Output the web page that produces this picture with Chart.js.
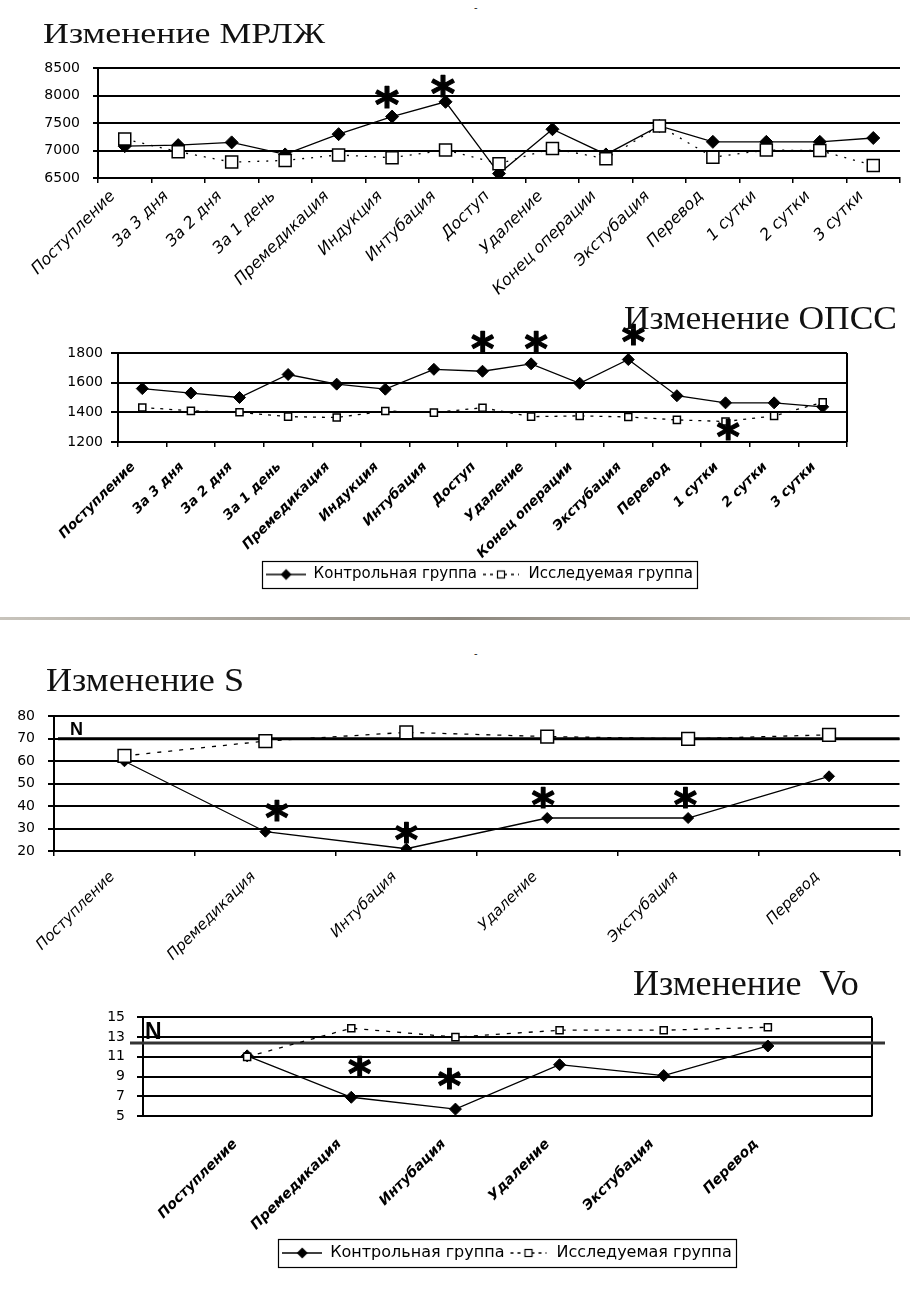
<!DOCTYPE html>
<html>
<head>
<meta charset="utf-8">
<script src="https://cdn.jsdelivr.net/npm/chart.js@4.4.1/dist/chart.umd.min.js"></script>
<style>
  body { margin: 0; width: 910px; height: 1289px; background: #fff; position: relative; overflow: hidden; }
  canvas { position: absolute; }
  .zag { position: absolute; font-family: 'Liberation Serif', 'DejaVu Serif', serif; color: #111; line-height: 1; white-space: pre; transform-origin: 0 0; }
  .tochka { position: absolute; font: 10px 'DejaVu Sans', sans-serif; color: #222; }
  .razdel { position: absolute; left: 0; top: 617px; width: 910px; height: 3px; background: linear-gradient(to right, #c8c4bc, #8c877e 50%, #c8c4bc); }
</style>
</head>
<body>
<canvas id="grMrlzh" width="910" height="253" style="left:0;top:47px"></canvas>
<canvas id="grOpss" width="860" height="269" style="left:50px;top:323px"></canvas>
<canvas id="grS" width="910" height="270" style="left:0;top:695px"></canvas>
<canvas id="grVo" width="804" height="274" style="left:106px;top:997px"></canvas>
<div class="razdel"></div>
<div class="tochka" style="left:474px;top:2px">-</div>
<div class="tochka" style="left:474px;top:648px">-</div>
<script>
// ---- данные ----
const etapyPolnye = ['Поступление', 'За 3 дня', 'За 2 дня', 'За 1 день', 'Премедикация', 'Индукция', 'Интубация', 'Доступ', 'Удаление', 'Конец операции', 'Экстубация', 'Перевод', '1 сутки', '2 сутки', '3 сутки'];
const etapyKratkie = ['Поступление', 'Премедикация', 'Интубация', 'Удаление', 'Экстубация', 'Перевод'];
const etapyVo = ['', 'Поступление', 'Премедикация', 'Интубация', 'Удаление', 'Экстубация', 'Перевод', ''];
const gruppy = ['Контрольная группа', 'Исследуемая группа'];

const mrlzhKontrol = [7080, 7100, 7150, 6930, 7300, 7620, 7890, 6580, 7390, 6930, 7450, 7160, 7160, 7160, 7230];
const mrlzhIssled  = [7210, 6980, 6790, 6820, 6920, 6870, 7010, 6760, 7040, 6850, 7450, 6880, 7010, 7000, 6730];
const mrlzhShkala  = [6500, 8500, 500];
const mrlzhZvezdy  = [[4.9, 7975], [5.95, 8170]];

const opssKontrol = [1560, 1530, 1500, 1655, 1590, 1556, 1690, 1677, 1727, 1596, 1756, 1512, 1464, 1464, 1437];
const opssIssled  = [1433, 1410, 1400, 1371, 1365, 1409, 1398, 1431, 1371, 1376, 1369, 1349, 1338, 1376, 1468];
const opssShkala  = [1200, 1800, 200];
const opssZvezdy  = [[7, 1800], [8.1, 1800], [10.1, 1845], [12.05, 1205]];

const sKontrol = [60, 28.6, 21, 34.7, 34.7, 53.3];
const sIssled  = [62.4, 69, 72.9, 71, 70, 71.8];
const sShkala  = [20, 80, 10];
const sNorma   = 70;
const sZvezdy  = [[1.08, 38], [2, 28.3], [2.97, 43.8], [3.98, 43.8]];

const voKontrol = [null, 11.1, 6.9, 5.7, 10.2, 9.1, 12.1, null];
const voIssled  = [null, 11.0, 13.9, 13.0, 13.7, 13.7, 14.0, null];
const voShkala  = [5, 15, 2];
const voNorma   = 12.4;
const voZvezdy  = [[2.08, 8.8], [2.94, 7.6]];

// ---- оформление ----
function obrazecLegendy(tip, shirina) {
    const c = document.createElement('canvas');
    c.width = shirina; c.height = 14;
    const g = c.getContext('2d');
    g.strokeStyle = '#000'; g.lineWidth = 1.3;
    const cx = shirina / 2;
    if (tip === 'kontrol') {
        g.beginPath(); g.moveTo(0, 7); g.lineTo(shirina, 7); g.stroke();
        g.beginPath(); g.moveTo(cx, 1.5); g.lineTo(cx + 5.5, 7); g.lineTo(cx, 12.5); g.lineTo(cx - 5.5, 7); g.closePath();
        g.fillStyle = '#000'; g.fill();
    } else {
        g.setLineDash([3, 4]);
        g.beginPath(); g.moveTo(2, 7); g.lineTo(shirina - 2, 7); g.stroke();
        g.setLineDash([]);
        g.fillStyle = '#fff'; g.fillRect(cx - 3.5, 3.5, 7, 7);
        g.lineWidth = 1.2; g.strokeRect(cx - 3.5, 3.5, 7, 7);
    }
    return c;
}

function sdelatPlagin(nastr) {
    return {
        id: 'oformlenie',
        afterLayout(chart) {
            if (nastr.sdvigLegendy && chart.legend) {
                chart.legend.left += nastr.sdvigLegendy;
                chart.legend.right += nastr.sdvigLegendy;
            }
        },
        beforeDatasetsDraw(chart) {
            const ctx = chart.ctx, a = chart.chartArea, y = chart.scales.y;
            ctx.save();
            if (nastr.ramka) {
                ctx.strokeStyle = '#000'; ctx.lineWidth = 2;
                ctx.beginPath(); ctx.moveTo(a.right, a.top); ctx.lineTo(a.right, a.bottom); ctx.stroke();
            }
            if (nastr.norma != null) {
                const py = y.getPixelForValue(nastr.norma);
                ctx.strokeStyle = nastr.normaCvet; ctx.lineWidth = 3;
                ctx.beginPath(); ctx.moveTo(a.left + nastr.normaSleva, py); ctx.lineTo(a.right + nastr.normaSprava, py); ctx.stroke();
                ctx.fillStyle = '#000';
                ctx.font = 'bold ' + nastr.nRazmer + 'px "Liberation Sans", Arial, sans-serif';
                ctx.textAlign = 'left'; ctx.textBaseline = 'alphabetic';
                ctx.fillText('N', a.left + nastr.nOtstup, py - 4);
            }
            ctx.restore();
        },
        afterDatasetsDraw(chart) {
            if (!nastr.zvezdy) return;
            const ctx = chart.ctx, x = chart.scales.x, y = chart.scales.y;
            ctx.save();
            ctx.font = 'bold 100px "DejaVu Sans", sans-serif';
            let m = ctx.measureText('*');
            const razmer = 100 * nastr.zvezdaVysota / (m.actualBoundingBoxAscent + m.actualBoundingBoxDescent);
            ctx.font = 'bold ' + razmer.toFixed(1) + 'px "DejaVu Sans", sans-serif';
            m = ctx.measureText('*');
            ctx.fillStyle = '#000'; ctx.strokeStyle = '#000'; ctx.lineWidth = 1.2; ctx.lineJoin = 'round';
            ctx.textAlign = 'left'; ctx.textBaseline = 'alphabetic';
            nastr.zvezdy.forEach(([i, v]) => {
                const px = x.getPixelForValue(i), py = y.getPixelForValue(v);
                const dx = (m.actualBoundingBoxRight - m.actualBoundingBoxLeft) / 2;
                const dy = (m.actualBoundingBoxAscent - m.actualBoundingBoxDescent) / 2;
                ctx.fillText('*', px - dx, py + dy);
                ctx.strokeText('*', px - dx, py + dy);
            });
            ctx.restore();
        },
        afterDraw(chart) {
            if (!nastr.legenda) return;
            const boxes = chart.legend.legendHitBoxes;
            if (!boxes || !boxes.length) return;
            const levo = Math.min(...boxes.map(b => b.left)) - 4;
            const pravo = Math.max(...boxes.map(b => b.left + b.width)) + 4;
            const verh = boxes[0].top - 6;
            const ctx = chart.ctx;
            ctx.save();
            ctx.strokeStyle = '#000'; ctx.lineWidth = 1.2;
            ctx.strokeRect(Math.round(levo) + 0.5, Math.round(verh) + 0.5, Math.round(pravo - levo), boxes[0].height + 12);
            ctx.restore();
        }
    };
}

function naboryDannyh(kontrol, issled, p) {
    return [
        {
            label: gruppy[0], data: kontrol, order: 1,
            borderColor: '#000', borderWidth: 1.3, tension: 0, spanGaps: false,
            pointStyle: 'rectRot', pointRadius: p.romb, pointBackgroundColor: '#000', pointBorderColor: '#000', pointBorderWidth: 1
        },
        {
            label: gruppy[1], data: issled, order: 0,
            borderColor: '#000', borderWidth: 1.3, borderDash: p.shtrih, tension: 0,
            pointStyle: 'rect', pointRadius: p.kvadrat, pointBackgroundColor: '#fff', pointBorderColor: '#000', pointBorderWidth: 1.5
        }
    ];
}

function postroit(id, metki, kontrol, issled, shkala, p) {
    const ctx = document.getElementById(id).getContext('2d');
    const legenda = p.legenda ? {
        display: true, position: 'bottom',
        labels: {
            usePointStyle: true, pointStyleWidth: 40, padding: 4, color: '#000',
            font: { family: 'DejaVu Sans', size: p.legendaShrift },
            generateLabels: () => [
                { text: gruppy[0], pointStyle: obrazecLegendy('kontrol', 40), lineWidth: 0, hidden: false, datasetIndex: 0, fontColor: '#000' },
                { text: gruppy[1], pointStyle: obrazecLegendy('issled', 40), lineWidth: 0, hidden: false, datasetIndex: 1, fontColor: '#000' }
            ]
        }
    } : { display: false };

    return new Chart(ctx, {
        type: 'line',
        data: { labels: metki, datasets: naboryDannyh(kontrol, issled, p) },
        options: {
            responsive: false, animation: false, events: [],
            layout: { padding: { top: p.verh || 10, right: p.pravo, left: 0, bottom: 0 } },
            scales: {
                x: {
                    offset: p.smeshenie,
                    ticks: { autoSkip: false, maxRotation: 45, minRotation: 45, padding: p.otstupX, labelOffset: p.sdvigX, color: '#000',
                             font: { family: 'DejaVu Sans', size: p.shriftX, style: 'italic', weight: p.zhirnyeMetki ? 'bold' : 'normal' } },
                    grid: { drawOnChartArea: false, offset: p.smeshenie, drawTicks: p.riskiX, tickLength: 5, color: '#000', lineWidth: 1.5 },
                    border: { color: '#000', width: 2 },
                    afterFit: s => { s.height = p.vysotaX; }
                },
                y: {
                    min: shkala[0], max: shkala[1],
                    ticks: { stepSize: shkala[2], autoSkip: false, padding: p.otstupY, color: '#000', font: { family: 'DejaVu Sans', size: 14 },
                             callback: v => String(v) },
                    grid: { color: '#000', lineWidth: 2, tickLength: p.riskaY },
                    border: { color: '#000', width: 2 },
                    afterFit: s => { s.width = p.shirinaY; }
                }
            },
            plugins: { legend: legenda, tooltip: { enabled: false }, title: { display: false } }
        },
        plugins: [sdelatPlagin(p)]
    });
}

function zagolovok(tekst, levo, baza, razmer, shirina) {
    const d = document.createElement('div');
    d.className = 'zag';
    d.textContent = tekst;
    d.style.fontSize = razmer + 'px';
    d.style.left = levo + 'px';
    d.style.top = (baza - 0.8375 * razmer) + 'px';
    document.body.appendChild(d);
    const w = d.getBoundingClientRect().width;
    d.style.transform = 'scaleX(' + (shirina / w).toFixed(3) + ')';
}

zagolovok('Изменение МРЛЖ', 43, 43, 30, 282);
zagolovok('Изменение ОПСС', 624, 330, 33, 273);
zagolovok('Изменение S', 46, 692, 33, 198);
zagolovok('Изменение  Vo', 633, 995, 35, 226);

postroit('grMrlzh', etapyPolnye, mrlzhKontrol, mrlzhIssled, mrlzhShkala, {
    romb: 6.5, kvadrat: 8.5, shtrih: [2, 7], pravo: 1, smeshenie: true, otstupX: 4, sdvigX: -12, shriftX: 16, riskiX: true,
    vysotaX: 122, otstupY: 13, riskaY: 5, shirinaY: 98, zvezdy: mrlzhZvezdy, zvezdaVysota: 22
});
postroit('grOpss', etapyPolnye, opssKontrol, opssIssled, opssShkala, {
    verh: 30, romb: 6, kvadrat: 5, shtrih: [3, 6], pravo: 63, smeshenie: true, otstupX: 12, sdvigX: -9, shriftX: 13.5, riskiX: true, zhirnyeMetki: true,
    vysotaX: 121, otstupY: 8, riskaY: 7, shirinaY: 68, zvezdy: opssZvezdy, zvezdaVysota: 21, ramka: true,
    legenda: true, legendaShrift: 15, sdvigLegendy: 31
});
postroit('grS', etapyKratkie, sKontrol, sIssled, sShkala, {
    romb: 5.5, kvadrat: 9, shtrih: [4, 7], pravo: 0, smeshenie: true, otstupX: 12, sdvigX: -12, shriftX: 15, riskiX: true,
    vysotaX: 114, otstupY: 13, riskaY: 6, shirinaY: 54, zvezdy: sZvezdy, zvezdaVysota: 21,
    norma: sNorma, normaCvet: '#000', normaSleva: 4, normaSprava: 0, nOtstup: 16, nRazmer: 18
});
postroit('grVo', etapyVo, voKontrol, voIssled, voShkala, {
    romb: 6, kvadrat: 5, shtrih: [4, 7], pravo: 38, smeshenie: false, otstupX: 20, sdvigX: -12, shriftX: 14, riskiX: false, zhirnyeMetki: true,
    vysotaX: 125, otstupY: 12, riskaY: 6, shirinaY: 37, zvezdy: voZvezdy, zvezdaVysota: 21, ramka: true,
    legenda: true, legendaShrift: 16, sdvigLegendy: 18,
    norma: voNorma, normaCvet: '#333', normaSleva: -13, normaSprava: 13, nOtstup: 2, nRazmer: 23
});
</script>
</body>
</html>
